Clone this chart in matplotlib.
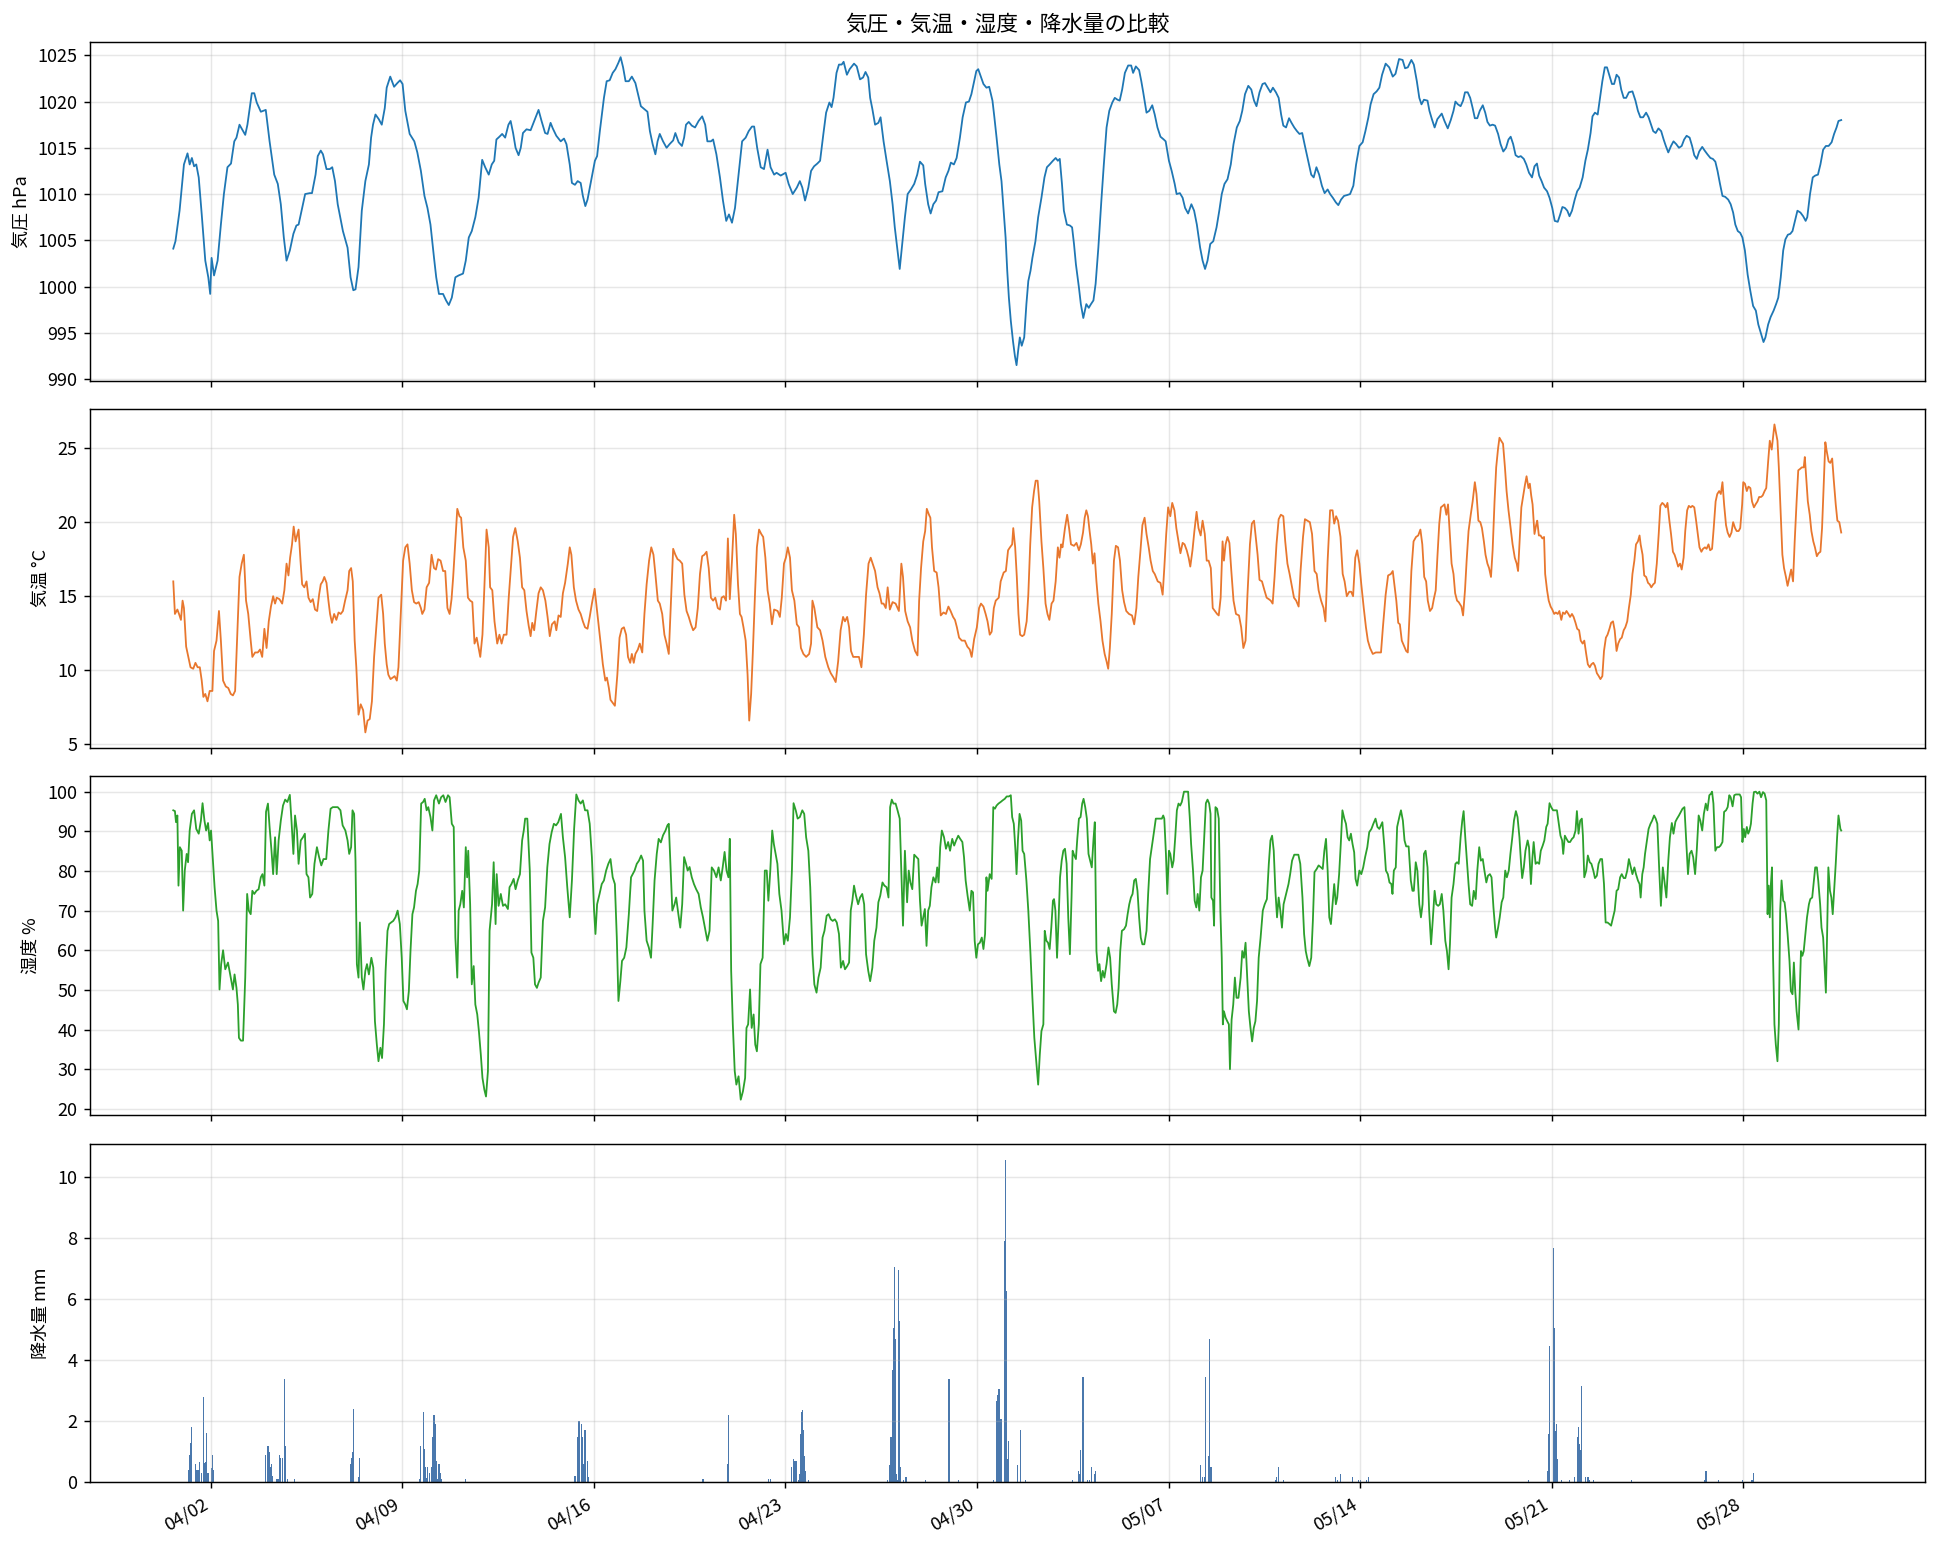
import numpy as np
import pandas as pd
import matplotlib
matplotlib.use('Agg')
import matplotlib.pyplot as plt
import matplotlib.dates as mdates

plt.rcParams['font.family'] = ['Noto Sans CJK JP', 'DejaVu Sans']
plt.rcParams['axes.unicode_minus'] = False

# record starts 04/01 00:00 JST, axis shows it as 03/31 15:00
start = pd.Timestamp('2024-03-31 15:00')

# (days from start, hPa)
pressure = [
    (0.00, 1004.1), (0.08, 1004.9), (0.23, 1008.2), (0.39, 1013.2), (0.52, 1014.4), (0.60, 1013.2), (0.68, 1013.9),
    (0.76, 1013.0), (0.84, 1013.2), (0.93, 1011.8), (1.04, 1007.8), (1.17, 1002.8), (1.28, 1001.0), (1.35, 999.2),
    (1.40, 1003.1), (1.49, 1001.2), (1.62, 1002.8), (1.74, 1006.7), (1.85, 1010.0), (1.98, 1012.9), (2.11, 1013.3),
    (2.23, 1015.7), (2.31, 1016.1), (2.42, 1017.5), (2.63, 1016.4), (2.71, 1017.5), (2.87, 1020.9), (2.96, 1020.9),
    (3.05, 1019.9), (3.20, 1018.9), (3.38, 1019.1), (3.52, 1015.7), (3.69, 1012.1), (3.82, 1011.1), (3.93, 1008.9),
    (4.04, 1005.3), (4.14, 1002.8), (4.26, 1003.9), (4.39, 1005.7), (4.50, 1006.6), (4.58, 1006.7), (4.69, 1008.2),
    (4.82, 1010.0), (4.99, 1010.1), (5.07, 1010.1), (5.20, 1012.1), (5.28, 1014.1), (5.39, 1014.7), (5.47, 1014.3),
    (5.60, 1012.7), (5.72, 1012.7), (5.81, 1012.9), (5.91, 1011.4), (6.01, 1008.9), (6.20, 1006.0), (6.37, 1004.2),
    (6.48, 1001.0), (6.58, 999.6), (6.66, 999.7), (6.77, 1002.1), (6.89, 1008.2), (7.02, 1011.4), (7.15, 1013.2),
    (7.23, 1016.1), (7.30, 1017.5), (7.39, 1018.6), (7.51, 1018.1), (7.62, 1017.5), (7.73, 1019.3), (7.80, 1021.5),
    (7.93, 1022.7), (8.07, 1021.6), (8.19, 1022.0), (8.29, 1022.3), (8.38, 1021.9), (8.48, 1019.0), (8.64, 1016.5),
    (8.81, 1015.7), (8.92, 1014.5), (9.05, 1012.5), (9.18, 1009.8), (9.29, 1008.5), (9.40, 1006.7), (9.53, 1003.1),
    (9.61, 1001.0), (9.71, 999.2), (9.86, 999.2), (9.97, 998.5), (10.07, 998.0), (10.18, 998.8), (10.31, 1001.0),
    (10.43, 1001.2), (10.59, 1001.4), (10.69, 1002.8), (10.80, 1005.3), (10.91, 1006.0), (11.04, 1007.5),
    (11.16, 1009.6), (11.29, 1013.7), (11.40, 1012.9), (11.53, 1012.1), (11.64, 1013.2), (11.73, 1013.6),
    (11.81, 1015.9), (11.92, 1016.2), (12.02, 1016.5), (12.13, 1016.1), (12.25, 1017.5), (12.33, 1017.9),
    (12.42, 1016.6), (12.51, 1015.0), (12.62, 1014.2), (12.70, 1015.0), (12.78, 1016.6), (12.91, 1017.0),
    (13.06, 1016.9), (13.19, 1017.9), (13.35, 1019.1), (13.46, 1017.9), (13.59, 1016.6), (13.68, 1016.5),
    (13.79, 1017.7), (13.87, 1017.1), (14.00, 1016.3), (14.16, 1015.7), (14.28, 1016.0), (14.37, 1015.4),
    (14.49, 1013.2), (14.57, 1011.2), (14.68, 1011.0), (14.78, 1011.4), (14.89, 1011.2), (14.97, 1009.8),
    (15.06, 1008.7), (15.14, 1009.4), (15.27, 1011.4), (15.41, 1013.6), (15.49, 1014.1), (15.59, 1016.8),
    (15.74, 1020.4), (15.84, 1022.2), (15.95, 1022.3), (16.06, 1023.1), (16.16, 1023.5), (16.27, 1024.2),
    (16.35, 1024.8), (16.44, 1023.7), (16.53, 1022.2), (16.65, 1022.2), (16.76, 1022.7), (16.89, 1022.0),
    (17.00, 1020.6), (17.09, 1019.5), (17.21, 1019.2), (17.33, 1018.9), (17.42, 1016.8), (17.52, 1015.4),
    (17.62, 1014.3), (17.70, 1015.7), (17.78, 1016.5), (17.90, 1015.7), (18.03, 1015.0), (18.14, 1015.4),
    (18.27, 1015.8), (18.35, 1016.6), (18.47, 1015.6), (18.59, 1015.2), (18.67, 1016.1), (18.74, 1017.5),
    (18.84, 1017.8), (18.95, 1017.4), (19.07, 1017.2), (19.20, 1017.9), (19.33, 1018.4), (19.44, 1017.5),
    (19.52, 1015.7), (19.65, 1015.7), (19.73, 1015.9), (19.85, 1014.3), (19.98, 1011.8), (20.09, 1009.3),
    (20.21, 1007.1), (20.31, 1007.8), (20.42, 1006.9), (20.53, 1008.5), (20.66, 1012.1), (20.79, 1015.7),
    (20.92, 1016.1), (21.03, 1016.8), (21.15, 1017.3), (21.23, 1017.3), (21.34, 1015.0), (21.47, 1012.9),
    (21.59, 1012.7), (21.72, 1014.8), (21.83, 1012.9), (21.96, 1012.1),
    (22.05, 1012.3), (22.20, 1012.0), (22.38, 1012.3), (22.49, 1011.1), (22.64, 1010.0), (22.79, 1010.7),
    (22.90, 1011.4), (22.99, 1010.7), (23.09, 1009.3), (23.21, 1010.7), (23.31, 1012.5), (23.42, 1013.0),
    (23.54, 1013.3), (23.64, 1013.6), (23.76, 1016.5), (23.86, 1018.8), (23.98, 1019.9), (24.06, 1019.4),
    (24.13, 1020.4), (24.24, 1023.1), (24.33, 1024.0), (24.43, 1024.0), (24.50, 1024.3), (24.62, 1022.9),
    (24.72, 1023.5), (24.88, 1024.1), (24.98, 1023.8), (25.10, 1022.4), (25.21, 1022.6), (25.30, 1023.2),
    (25.40, 1022.6), (25.47, 1020.4), (25.55, 1019.2), (25.65, 1017.5), (25.77, 1017.7), (25.85, 1018.3),
    (25.96, 1015.7), (26.07, 1013.6), (26.19, 1011.4), (26.29, 1008.9), (26.37, 1006.4), (26.47, 1003.9),
    (26.55, 1001.9), (26.64, 1004.6), (26.74, 1007.5), (26.84, 1010.0), (26.96, 1010.5), (27.08, 1011.1),
    (27.19, 1012.1), (27.29, 1013.5), (27.41, 1013.1), (27.48, 1011.1), (27.59, 1008.9), (27.68, 1007.9),
    (27.78, 1008.9), (27.88, 1009.3), (27.97, 1010.2), (28.11, 1010.3), (28.23, 1011.8), (28.33, 1012.5),
    (28.42, 1013.4), (28.53, 1013.2), (28.63, 1013.9), (28.75, 1016.1), (28.85, 1018.3), (28.97, 1019.9),
    (29.08, 1020.0), (29.17, 1020.8), (29.27, 1022.2), (29.35, 1023.3), (29.42, 1023.5), (29.49, 1022.9),
    (29.61, 1021.9), (29.72, 1021.5), (29.82, 1021.6), (29.94, 1020.1), (30.01, 1018.3), (30.09, 1016.1),
    (30.19, 1013.2), (30.27, 1011.4), (30.34, 1008.5), (30.42, 1005.3), (30.48, 1001.7), (30.54, 998.8),
    (30.61, 996.3), (30.69, 994.1), (30.76, 992.5), (30.82, 991.5), (30.88, 993.1), (30.94, 994.5),
    (31.01, 993.6), (31.10, 994.5), (31.18, 998.1), (31.25, 1000.6), (31.33, 1001.7), (31.40, 1003.1),
    (31.51, 1004.9), (31.61, 1007.5), (31.73, 1009.6), (31.84, 1011.8), (31.93, 1012.9), (32.03, 1013.2),
    (32.15, 1013.6), (32.25, 1013.9), (32.33, 1013.6), (32.40, 1013.8), (32.48, 1011.1), (32.55, 1008.2),
    (32.66, 1006.7), (32.77, 1006.6), (32.85, 1006.4), (32.92, 1004.6), (32.99, 1002.4), (33.10, 999.9),
    (33.17, 998.1), (33.26, 996.6), (33.37, 998.1), (33.46, 997.7), (33.54, 998.1), (33.63, 998.5),
    (33.71, 1000.3), (33.81, 1004.2), (33.92, 1009.3), (34.01, 1013.2), (34.11, 1017.2), (34.21, 1019.0),
    (34.32, 1019.9), (34.41, 1020.4), (34.51, 1020.2), (34.59, 1020.1), (34.68, 1021.3), (34.78, 1023.1),
    (34.90, 1023.9), (35.01, 1023.9), (35.08, 1023.1), (35.18, 1023.8), (35.30, 1023.4), (35.38, 1022.2),
    (35.45, 1021.0), (35.57, 1018.8), (35.67, 1019.0), (35.78, 1019.6), (35.87, 1018.6), (35.97, 1017.2),
    (36.08, 1016.2), (36.20, 1015.9), (36.27, 1015.7), (36.39, 1013.6), (36.49, 1012.5), (36.60, 1011.1),
    (36.67, 1010.0), (36.79, 1010.1), (36.89, 1009.6), (36.98, 1008.5), (37.09, 1007.9), (37.21, 1008.9),
    (37.31, 1008.2), (37.41, 1006.7), (37.53, 1004.2), (37.62, 1002.8), (37.71, 1001.9), (37.80, 1002.8),
    (37.90, 1004.6), (38.01, 1004.9), (38.13, 1006.4), (38.23, 1008.2), (38.32, 1010.0), (38.42, 1011.1),
    (38.53, 1011.6), (38.65, 1013.2), (38.75, 1015.4), (38.87, 1017.2), (38.98, 1017.9), (39.07, 1019.0),
    (39.17, 1020.8), (39.29, 1021.7), (39.40, 1021.3), (39.50, 1020.1), (39.59, 1019.5), (39.70, 1021.0),
    (39.81, 1021.9), (39.90, 1022.0), (40.00, 1021.5), (40.10, 1021.0), (40.19, 1021.5), (40.30, 1021.0),
    (40.40, 1020.4), (40.49, 1018.6), (40.57, 1017.4), (40.67, 1017.2), (40.78, 1018.2), (40.87, 1017.7),
    (40.97, 1017.2), (41.07, 1016.8), (41.16, 1016.5), (41.26, 1016.6), (41.36, 1015.2), (41.48, 1013.6),
    (41.59, 1012.1), (41.68, 1011.8), (41.78, 1012.9), (41.88, 1012.1), (41.98, 1010.9), (42.08, 1010.1),
    (42.19, 1010.5), (42.28, 1010.0), (42.38, 1009.6), (42.49, 1009.1), (42.58, 1008.8), (42.68, 1009.4),
    (42.79, 1009.8), (42.91, 1009.9), (43.01, 1010.0), (43.13, 1010.9), (43.23, 1013.2), (43.35, 1015.2),
    (43.47, 1015.6), (43.57, 1016.8), (43.68, 1018.3), (43.76, 1019.7), (43.87, 1020.8), (43.98, 1021.1),
    (44.08, 1021.5), (44.18, 1022.9), (44.31, 1024.1), (44.44, 1023.7), (44.57, 1022.7), (44.67, 1023.0),
    (44.80, 1024.6), (44.93, 1024.5), (45.02, 1023.6), (45.12, 1023.7), (45.25, 1024.5), (45.34, 1024.0),
    (45.45, 1022.2), (45.54, 1020.4), (45.62, 1019.7), (45.71, 1020.2), (45.84, 1020.1), (45.91, 1019.0),
    (46.00, 1018.1), (46.10, 1017.2), (46.20, 1018.1), (46.36, 1018.7), (46.46, 1017.9), (46.58, 1017.1),
    (46.69, 1018.0), (46.79, 1019.0), (46.86, 1020.0), (46.95, 1019.7), (47.05, 1019.5), (47.14, 1020.1),
    (47.21, 1021.0), (47.31, 1021.0), (47.40, 1020.4), (47.49, 1019.3), (47.57, 1018.2), (47.66, 1018.2),
    (47.75, 1019.0), (47.86, 1019.6), (47.95, 1018.8), (48.03, 1017.8), (48.12, 1017.4), (48.22, 1017.5),
    (48.31, 1017.4), (48.42, 1016.5), (48.51, 1015.4), (48.61, 1014.6), (48.71, 1015.0), (48.80, 1015.9),
    (48.88, 1016.2), (48.97, 1015.4), (49.06, 1014.2), (49.16, 1014.0), (49.25, 1014.1), (49.36, 1013.8),
    (49.45, 1013.2), (49.55, 1012.3), (49.66, 1011.8), (49.75, 1013.0), (49.84, 1013.3), (49.92, 1012.0),
    (50.01, 1011.4), (50.10, 1010.7), (50.21, 1010.3), (50.30, 1009.6), (50.40, 1008.5), (50.49, 1007.1),
    (50.60, 1007.0), (50.69, 1007.8), (50.77, 1008.6), (50.86, 1008.5), (50.95, 1008.2), (51.03, 1007.6),
    (51.12, 1008.2), (51.22, 1009.4), (51.31, 1010.3), (51.40, 1010.7), (51.51, 1011.8), (51.61, 1013.6),
    (51.70, 1014.8), (51.80, 1016.6), (51.87, 1018.4), (51.96, 1018.8), (52.06, 1018.6), (52.13, 1020.1),
    (52.23, 1022.2), (52.32, 1023.7), (52.40, 1023.7), (52.49, 1022.8), (52.58, 1021.9), (52.66, 1021.9),
    (52.75, 1022.9), (52.84, 1022.6), (52.92, 1021.3), (53.01, 1020.4), (53.10, 1020.4), (53.20, 1021.0),
    (53.33, 1021.1), (53.44, 1020.1), (53.53, 1019.0), (53.62, 1018.3), (53.72, 1018.3), (53.83, 1018.8),
    (53.92, 1018.3), (54.01, 1017.5), (54.09, 1016.8), (54.18, 1016.6), (54.28, 1017.1), (54.38, 1016.8),
    (54.47, 1015.9), (54.55, 1015.2), (54.64, 1014.5), (54.74, 1015.2), (54.83, 1015.7), (54.93, 1015.4),
    (55.03, 1015.0), (55.13, 1015.2), (55.22, 1015.9), (55.31, 1016.3), (55.42, 1016.1), (55.51, 1015.2),
    (55.59, 1014.2), (55.68, 1013.8), (55.77, 1014.6), (55.88, 1015.1), (55.97, 1014.7), (56.07, 1014.3),
    (56.18, 1013.9), (56.27, 1013.8), (56.36, 1013.5), (56.44, 1012.5), (56.53, 1011.1), (56.62, 1009.8),
    (56.72, 1009.7), (56.83, 1009.4), (56.92, 1008.9), (57.01, 1008.0), (57.09, 1006.7), (57.18, 1006.0),
    (57.27, 1005.8), (57.35, 1005.3), (57.44, 1003.9), (57.54, 1001.3), (57.64, 999.5), (57.74, 997.9),
    (57.84, 997.4), (57.93, 995.9), (58.03, 994.9), (58.12, 994.0), (58.19, 994.5), (58.29, 995.9),
    (58.38, 996.7), (58.49, 997.4), (58.58, 998.1), (58.66, 998.8), (58.75, 1001.0), (58.84, 1003.9),
    (58.92, 1005.1), (59.01, 1005.6), (59.10, 1005.7), (59.18, 1006.0), (59.27, 1007.1), (59.36, 1008.2),
    (59.47, 1008.0), (59.57, 1007.6), (59.66, 1007.1), (59.72, 1007.5), (59.82, 1010.0), (59.92, 1011.8),
    (60.01, 1012.0), (60.11, 1012.1), (60.20, 1013.2), (60.30, 1014.8), (60.40, 1015.2), (60.50, 1015.2),
    (60.61, 1015.6), (60.70, 1016.5), (60.79, 1017.2), (60.86, 1017.9), (60.96, 1018.0),
]

# (days from start, degC)
temperature = [
    (0.00, 16.0), (0.06, 13.8), (0.15, 14.1), (0.21, 13.8), (0.28, 13.4), (0.34, 14.7), (0.39, 14.2), (0.47, 11.6),
    (0.55, 10.9), (0.63, 10.2), (0.73, 10.1), (0.81, 10.5), (0.89, 10.2), (0.97, 10.2), (1.04, 9.3), (1.10, 8.2),
    (1.17, 8.4), (1.25, 7.9), (1.33, 8.6), (1.43, 8.6), (1.49, 11.3), (1.58, 12.0), (1.67, 14.0), (1.74, 12.0),
    (1.82, 9.3), (1.92, 8.9), (2.01, 8.8), (2.10, 8.4), (2.18, 8.3), (2.26, 8.6), (2.34, 12.4), (2.42, 16.3),
    (2.50, 17.2), (2.58, 17.8), (2.66, 14.7), (2.74, 13.8), (2.83, 12.0), (2.89, 10.9), (2.99, 11.2), (3.09, 11.2),
    (3.17, 11.4), (3.25, 10.9), (3.33, 12.8), (3.41, 11.5), (3.49, 13.3), (3.57, 14.3), (3.65, 15.0), (3.72, 14.5),
    (3.78, 14.9), (3.88, 14.8), (3.98, 14.5), (4.06, 15.4), (4.14, 17.2), (4.21, 16.4), (4.27, 17.6), (4.34, 18.5),
    (4.40, 19.7), (4.47, 18.7), (4.58, 19.5), (4.65, 17.4), (4.71, 15.8), (4.79, 15.6), (4.87, 16.0), (4.94, 14.9),
    (5.02, 14.6), (5.10, 14.8), (5.18, 14.1), (5.26, 14.0), (5.33, 15.1), (5.39, 15.8), (5.46, 16.0), (5.52, 16.3),
    (5.60, 15.9), (5.67, 14.7), (5.73, 13.8), (5.80, 13.2), (5.88, 13.8), (5.96, 13.4), (6.04, 13.9), (6.12, 13.8),
    (6.20, 14.0), (6.28, 14.7), (6.37, 15.4), (6.43, 16.7), (6.50, 16.9), (6.56, 16.0), (6.63, 12.0), (6.69, 10.2),
    (6.77, 7.0), (6.85, 7.7), (6.94, 7.3), (7.02, 5.8), (7.10, 6.6), (7.18, 6.7), (7.26, 7.9), (7.34, 10.9),
    (7.42, 12.9), (7.50, 14.9), (7.60, 15.1), (7.67, 13.8), (7.73, 11.8), (7.80, 10.4), (7.86, 9.7), (7.94, 9.4),
    (8.02, 9.5), (8.09, 9.6), (8.17, 9.3), (8.23, 10.2), (8.31, 13.6), (8.40, 17.4), (8.48, 18.3), (8.56, 18.5),
    (8.64, 17.2), (8.72, 15.4), (8.80, 14.6), (8.88, 14.5), (8.97, 14.6), (9.05, 14.2), (9.10, 13.8), (9.18, 14.1),
    (9.26, 15.6), (9.35, 15.9), (9.44, 17.8), (9.53, 16.9), (9.60, 16.8), (9.68, 17.5), (9.77, 17.4), (9.86, 16.7),
    (9.94, 16.7), (10.02, 14.2), (10.10, 13.8), (10.17, 14.8), (10.23, 16.3), (10.31, 18.7), (10.38, 20.9),
    (10.46, 20.4), (10.52, 20.3), (10.60, 18.3), (10.69, 17.4), (10.77, 14.9), (10.85, 14.7), (10.93, 14.6),
    (11.01, 11.8), (11.09, 12.2), (11.16, 11.5), (11.22, 10.9), (11.30, 12.4), (11.37, 15.6), (11.45, 19.5),
    (11.53, 18.3), (11.58, 15.6), (11.66, 15.4), (11.74, 13.3), (11.84, 11.8), (11.92, 12.4), (12.00, 11.8),
    (12.08, 12.4), (12.18, 12.4), (12.26, 14.9), (12.34, 16.9), (12.42, 19.0), (12.50, 19.6), (12.59, 18.7),
    (12.67, 17.6), (12.75, 15.6), (12.83, 15.4), (12.91, 14.0), (12.99, 13.0), (13.06, 12.3), (13.12, 13.2),
    (13.19, 12.7), (13.27, 14.0), (13.35, 15.2), (13.43, 15.6), (13.51, 15.4), (13.60, 14.7), (13.68, 13.6),
    (13.76, 12.3), (13.84, 13.1), (13.94, 13.3), (14.00, 12.7), (14.08, 13.7), (14.16, 13.6), (14.24, 15.2),
    (14.32, 15.9), (14.42, 17.2), (14.49, 18.3), (14.55, 17.8), (14.64, 15.6), (14.72, 14.7), (14.81, 14.1),
    (14.89, 13.8), (14.97, 13.3), (15.05, 12.9), (15.14, 12.8), (15.22, 13.6), (15.30, 14.5), (15.40, 15.5),
    (15.46, 14.5), (15.54, 13.1), (15.62, 11.8), (15.70, 10.4), (15.79, 9.3), (15.85, 9.5), (15.92, 8.8),
    (15.98, 8.0), (16.06, 7.8), (16.14, 7.6), (16.23, 9.7), (16.31, 12.2), (16.39, 12.8), (16.47, 12.9),
    (16.55, 12.4), (16.62, 10.9), (16.70, 10.5), (16.76, 11.1), (16.83, 10.5), (16.89, 11.1), (16.98, 11.4),
    (17.05, 11.8), (17.14, 11.2), (17.22, 13.8), (17.30, 15.8), (17.39, 17.4), (17.47, 18.3), (17.55, 17.8),
    (17.62, 16.5), (17.71, 14.7), (17.78, 14.5), (17.87, 13.8), (17.95, 12.4), (18.03, 11.8), (18.11, 11.1),
    (18.19, 14.7), (18.27, 18.2), (18.35, 17.8), (18.43, 17.5), (18.51, 17.4), (18.60, 17.2), (18.68, 15.1),
    (18.76, 14.0), (18.84, 13.6), (18.92, 13.1), (19.00, 12.7), (19.09, 12.9), (19.17, 14.2), (19.25, 16.5),
    (19.33, 17.7), (19.41, 17.8), (19.49, 18.0), (19.57, 16.9), (19.65, 14.9), (19.73, 14.7), (19.81, 14.9),
    (19.90, 14.2), (19.98, 14.1), (20.04, 14.9), (20.12, 15.0), (20.20, 14.7), (20.27, 18.9), (20.34, 14.8),
    (20.42, 17.4), (20.50, 20.5), (20.56, 19.2), (20.64, 15.8), (20.71, 13.8), (20.77, 13.6), (20.84, 12.9),
    (20.92, 12.0), (20.99, 9.7), (21.05, 6.6), (21.12, 8.4), (21.18, 11.1), (21.26, 15.1), (21.33, 18.3),
    (21.41, 19.5), (21.49, 19.2), (21.56, 19.0), (21.64, 17.6), (21.72, 15.4), (21.80, 14.5), (21.88, 13.1),
    (21.96, 14.1),
    (22.09, 14.0), (22.17, 13.6), (22.24, 14.9), (22.32, 17.2), (22.39, 17.6), (22.46, 18.3), (22.54, 17.6),
    (22.61, 15.4), (22.70, 14.7), (22.79, 13.1), (22.87, 12.9), (22.94, 11.5), (23.03, 11.1), (23.13, 10.9),
    (23.24, 11.1), (23.31, 11.8), (23.36, 14.7), (23.43, 14.2), (23.54, 12.9), (23.64, 12.7), (23.73, 12.0),
    (23.83, 10.9), (23.94, 10.2), (24.03, 9.8), (24.13, 9.5), (24.21, 9.2), (24.30, 10.6), (24.39, 12.7),
    (24.48, 13.6), (24.55, 13.3), (24.63, 13.6), (24.70, 12.9), (24.77, 11.3), (24.85, 10.9), (24.95, 10.9),
    (25.06, 10.9), (25.15, 10.2), (25.24, 12.4), (25.32, 15.1), (25.41, 17.2), (25.49, 17.6), (25.56, 17.2),
    (25.65, 16.7), (25.74, 15.6), (25.81, 15.2), (25.89, 14.5), (25.96, 14.5), (26.04, 14.2), (26.11, 15.6),
    (26.19, 14.1), (26.29, 14.6), (26.40, 14.5), (26.52, 14.0), (26.61, 17.2), (26.67, 16.3), (26.75, 14.0),
    (26.84, 13.3), (26.93, 12.9), (27.01, 12.0), (27.11, 11.3), (27.20, 11.0), (27.26, 14.7), (27.33, 16.9),
    (27.41, 18.7), (27.48, 19.4), (27.54, 20.9), (27.62, 20.5), (27.67, 20.3), (27.73, 18.3), (27.81, 16.7),
    (27.90, 16.6), (27.97, 15.6), (28.05, 13.7), (28.15, 13.9), (28.24, 13.8), (28.33, 14.3), (28.41, 14.0),
    (28.50, 13.6), (28.57, 13.4), (28.64, 12.9), (28.72, 12.2), (28.82, 12.0), (28.93, 12.0), (29.02, 11.6),
    (29.11, 11.4), (29.18, 10.9), (29.27, 12.1), (29.37, 12.9), (29.45, 14.2), (29.52, 14.5), (29.61, 14.3),
    (29.69, 13.8), (29.76, 13.3), (29.84, 12.4), (29.91, 12.6), (29.99, 14.2), (30.06, 14.7), (30.17, 14.9),
    (30.24, 16.0), (30.35, 16.6), (30.43, 16.7), (30.51, 18.1), (30.58, 18.3), (30.66, 18.5), (30.70, 19.6),
    (30.77, 18.3), (30.83, 16.3), (30.89, 13.8), (30.95, 12.4), (31.03, 12.3), (31.10, 12.4), (31.19, 13.3),
    (31.25, 15.1), (31.32, 18.5), (31.39, 21.0), (31.46, 22.1), (31.52, 22.8), (31.59, 22.8), (31.65, 21.4),
    (31.73, 18.7), (31.80, 16.9), (31.88, 14.5), (31.95, 13.8), (32.02, 13.4), (32.10, 14.5), (32.17, 14.7),
    (32.25, 16.0), (32.33, 18.3), (32.39, 17.6), (32.45, 18.5), (32.50, 18.3), (32.59, 19.6), (32.67, 20.5),
    (32.74, 19.6), (32.81, 18.5), (32.92, 18.4), (33.01, 18.6), (33.10, 18.1), (33.17, 18.5), (33.25, 19.3),
    (33.31, 20.3), (33.37, 20.8), (33.43, 20.4), (33.49, 19.4), (33.55, 18.5), (33.61, 17.2), (33.67, 17.9),
    (33.74, 16.0), (33.81, 14.5), (33.89, 13.3), (33.96, 12.0), (34.04, 11.1), (34.11, 10.6), (34.17, 10.1),
    (34.23, 11.5), (34.30, 13.8), (34.38, 17.4), (34.45, 18.4), (34.53, 18.3), (34.60, 17.4), (34.68, 15.4),
    (34.75, 14.6), (34.83, 14.0), (34.93, 13.8), (35.04, 13.7), (35.12, 13.1), (35.20, 14.2), (35.27, 16.3),
    (35.35, 18.1), (35.42, 19.8), (35.50, 20.3), (35.57, 19.2), (35.65, 18.3), (35.72, 17.4), (35.80, 16.7),
    (35.87, 16.5), (35.98, 16.0), (36.08, 15.9), (36.16, 15.1), (36.22, 16.9), (36.29, 19.2), (36.36, 21.0),
    (36.44, 20.4), (36.51, 21.3), (36.59, 20.8), (36.66, 19.6), (36.74, 18.7), (36.81, 17.9), (36.89, 18.6),
    (36.96, 18.5), (37.04, 18.1), (37.11, 17.6), (37.17, 17.0), (37.25, 18.1), (37.32, 19.4), (37.40, 20.7),
    (37.47, 19.6), (37.55, 19.1), (37.62, 20.1), (37.70, 19.2), (37.77, 17.4), (37.84, 17.4), (37.92, 16.9),
    (37.99, 14.2), (38.07, 14.0), (38.15, 13.8), (38.21, 13.7), (38.28, 14.9), (38.35, 18.7), (38.40, 17.4),
    (38.46, 18.5), (38.53, 19.0), (38.60, 18.6), (38.67, 16.7), (38.75, 14.7), (38.84, 13.8), (38.95, 13.7),
    (39.03, 12.9), (39.11, 11.5), (39.19, 12.0), (39.26, 15.1), (39.35, 18.5), (39.42, 19.9), (39.50, 20.1),
    (39.55, 19.2), (39.63, 17.8), (39.70, 16.1), (39.79, 16.0), (39.88, 15.4), (39.96, 14.9), (40.04, 14.8),
    (40.11, 14.7), (40.18, 14.5), (40.25, 16.3), (40.32, 18.5), (40.40, 20.2), (40.48, 20.5), (40.57, 20.4),
    (40.64, 18.7), (40.72, 17.2), (40.80, 16.5), (40.89, 15.6), (40.96, 14.9), (41.04, 14.7), (41.13, 14.3),
    (41.20, 16.7), (41.29, 19.0), (41.36, 20.2), (41.45, 20.1), (41.54, 20.0), (41.62, 19.2), (41.71, 16.7),
    (41.79, 16.5), (41.86, 15.4), (41.95, 14.7), (42.04, 14.2), (42.11, 13.3), (42.19, 17.4), (42.28, 20.8),
    (42.37, 20.8), (42.43, 19.9), (42.50, 20.4), (42.57, 20.1), (42.66, 19.0), (42.74, 16.5), (42.81, 16.0),
    (42.89, 15.0), (42.98, 15.3), (43.05, 15.3), (43.12, 15.0), (43.20, 17.6), (43.27, 18.1), (43.35, 17.2),
    (43.42, 15.8), (43.51, 14.2), (43.59, 12.9), (43.66, 12.0), (43.74, 11.5), (43.84, 11.1), (43.95, 11.2),
    (44.04, 11.2),
    (44.14, 11.2), (44.21, 12.9), (44.31, 15.1), (44.40, 16.4), (44.50, 16.5), (44.57, 16.7), (44.64, 15.6),
    (44.70, 14.7), (44.77, 13.2), (44.83, 13.1), (44.90, 12.0), (44.99, 11.6), (45.06, 11.3), (45.12, 11.2),
    (45.19, 14.0), (45.25, 16.7), (45.33, 18.7), (45.42, 19.0), (45.50, 19.1), (45.58, 19.5), (45.65, 18.5),
    (45.72, 16.3), (45.79, 16.0), (45.85, 14.7), (45.93, 14.0), (46.01, 14.2), (46.07, 14.8), (46.14, 15.4),
    (46.20, 17.6), (46.27, 19.9), (46.33, 21.0), (46.40, 21.1), (46.46, 21.2), (46.53, 20.5), (46.59, 21.2),
    (46.65, 19.4), (46.72, 17.2), (46.79, 16.5), (46.85, 15.2), (46.92, 14.7), (46.98, 14.6), (47.08, 14.3),
    (47.14, 13.7), (47.21, 15.4), (47.27, 17.4), (47.34, 19.4), (47.42, 20.5), (47.49, 21.4), (47.57, 22.7),
    (47.63, 21.9), (47.70, 20.1), (47.77, 20.0), (47.83, 19.6), (47.90, 18.7), (47.96, 17.8), (48.03, 17.2),
    (48.09, 16.9), (48.16, 16.3), (48.22, 18.1), (48.29, 21.4), (48.35, 23.7), (48.42, 25.0), (48.47, 25.7),
    (48.53, 25.5), (48.60, 25.3), (48.67, 23.7), (48.73, 22.1), (48.80, 20.8), (48.88, 19.6), (48.95, 18.5),
    (49.03, 17.6), (49.10, 17.2), (49.15, 16.7), (49.20, 18.5), (49.27, 21.0), (49.33, 21.7), (49.40, 22.5),
    (49.46, 23.1), (49.53, 22.3), (49.58, 22.6), (49.63, 21.8), (49.68, 21.2), (49.75, 19.2), (49.81, 19.8),
    (49.85, 20.1), (49.91, 19.1), (49.97, 19.1), (50.04, 18.9), (50.10, 19.0), (50.14, 16.5), (50.21, 15.4),
    (50.27, 14.7), (50.34, 14.3), (50.40, 14.1), (50.47, 13.8), (50.53, 13.9), (50.60, 13.8), (50.66, 14.0),
    (50.73, 13.4), (50.79, 13.9), (50.86, 13.8), (50.92, 14.0), (50.99, 13.8), (51.05, 13.6), (51.12, 13.8),
    (51.18, 13.6), (51.25, 13.2), (51.31, 12.8), (51.38, 12.7), (51.44, 12.0), (51.51, 11.8), (51.57, 12.0),
    (51.64, 11.1), (51.70, 10.4), (51.77, 10.2), (51.83, 10.4), (51.90, 10.5), (51.96, 10.3), (52.03, 9.8),
    (52.10, 9.6), (52.16, 9.4), (52.23, 9.6), (52.29, 11.3), (52.36, 12.2), (52.42, 12.4), (52.49, 12.8),
    (52.55, 13.2), (52.62, 13.3), (52.68, 12.7), (52.75, 11.3), (52.81, 11.8), (52.88, 12.1), (52.94, 12.2),
    (53.01, 12.7), (53.07, 12.9), (53.14, 13.3), (53.20, 14.2), (53.27, 15.1), (53.33, 16.5), (53.40, 17.4),
    (53.46, 18.5), (53.53, 18.7), (53.59, 19.1), (53.63, 18.5), (53.70, 17.8), (53.76, 16.4), (53.83, 16.3),
    (53.90, 15.9), (53.96, 15.8), (54.02, 15.6), (54.09, 15.8), (54.15, 15.9), (54.22, 17.2), (54.29, 19.2),
    (54.35, 21.1), (54.42, 21.3), (54.48, 21.2), (54.55, 21.0), (54.61, 21.3), (54.68, 20.1), (54.74, 19.2),
    (54.81, 18.0), (54.87, 17.8), (54.94, 17.4), (55.00, 17.0), (55.07, 17.2), (55.13, 16.8), (55.20, 17.6),
    (55.26, 19.4), (55.33, 20.8), (55.39, 21.1), (55.46, 21.0), (55.52, 21.1), (55.59, 21.0), (55.65, 20.2),
    (55.72, 19.2), (55.78, 18.3), (55.85, 18.0), (55.91, 18.2), (55.98, 18.3), (56.04, 18.2), (56.11, 18.5),
    (56.17, 18.1), (56.24, 18.2), (56.30, 19.6), (56.37, 21.4), (56.43, 21.9), (56.50, 22.1), (56.56, 21.9),
    (56.62, 22.7), (56.68, 21.2), (56.75, 19.8), (56.81, 19.3), (56.88, 19.0), (56.95, 19.3), (57.01, 20.0),
    (57.08, 19.6), (57.14, 19.4), (57.21, 19.4), (57.27, 19.6), (57.34, 21.2), (57.38, 22.7), (57.44, 22.6),
    (57.51, 22.1), (57.57, 22.4), (57.64, 22.3), (57.70, 21.4), (57.77, 21.0), (57.83, 21.2), (57.90, 21.4),
    (57.96, 21.7), (58.03, 21.7), (58.09, 21.8), (58.16, 22.1), (58.22, 22.3), (58.29, 24.1), (58.35, 25.5),
    (58.42, 24.9), (58.48, 25.9), (58.52, 26.6), (58.57, 26.1), (58.63, 25.5), (58.68, 23.7), (58.74, 21.0),
    (58.81, 17.8), (58.87, 16.9), (58.94, 16.3), (59.00, 15.7), (59.07, 16.3), (59.13, 16.8), (59.20, 16.0),
    (59.26, 18.7), (59.33, 21.4), (59.39, 23.5), (59.46, 23.6), (59.52, 23.7), (59.59, 23.7), (59.63, 24.4),
    (59.68, 23.0), (59.74, 21.4), (59.81, 20.5), (59.87, 19.4), (59.94, 18.7), (60.00, 18.3), (60.07, 17.7),
    (60.13, 17.9), (60.20, 18.0), (60.26, 19.6), (60.33, 23.0), (60.38, 25.4), (60.43, 24.8), (60.50, 24.1),
    (60.56, 24.0), (60.63, 24.3), (60.69, 22.8), (60.76, 21.2), (60.82, 20.1), (60.89, 20.0), (60.96, 19.3),
]

# (days from start, %)
humidity = [
    (0.00, 95.3), (0.06, 95.1), (0.10, 92.3), (0.15, 94.0), (0.19, 76.3), (0.24, 86.0), (0.31, 85.1), (0.36, 70.0),
    (0.42, 80.1), (0.49, 84.3), (0.54, 82.2), (0.60, 90.2), (0.68, 94.4), (0.76, 95.3), (0.84, 90.6), (0.93, 89.4),
    (1.01, 92.7), (1.07, 97.1), (1.14, 92.7), (1.20, 90.2), (1.27, 92.1), (1.33, 87.7), (1.38, 90.2), (1.45, 82.6),
    (1.51, 75.9), (1.58, 70.0), (1.64, 67.4), (1.69, 50.1), (1.75, 56.5), (1.82, 60.0), (1.90, 55.2), (2.00, 56.9),
    (2.10, 53.1), (2.18, 50.1), (2.24, 53.9), (2.31, 50.5), (2.36, 46.3), (2.40, 37.9), (2.47, 37.2), (2.55, 37.2),
    (2.63, 53.1), (2.70, 74.2), (2.76, 70.0), (2.83, 69.1), (2.89, 75.0), (2.96, 74.2), (3.04, 75.0), (3.12, 75.4),
    (3.20, 78.4), (3.26, 79.2), (3.33, 76.3), (3.39, 94.9), (3.46, 97.0), (3.52, 91.1), (3.59, 85.1), (3.65, 79.2),
    (3.72, 88.5), (3.78, 79.2), (3.85, 87.7), (3.93, 92.7), (4.01, 96.5), (4.09, 98.0), (4.17, 97.4), (4.26, 99.2),
    (4.32, 92.7), (4.39, 84.3), (4.45, 94.0), (4.52, 90.2), (4.58, 81.8), (4.66, 87.7), (4.74, 88.5), (4.81, 89.4),
    (4.87, 79.2), (4.94, 78.4), (5.00, 73.3), (5.08, 74.2), (5.16, 81.8), (5.25, 86.0), (5.33, 83.5), (5.41, 81.4),
    (5.49, 83.0), (5.59, 83.0), (5.67, 90.2), (5.75, 95.7), (5.83, 96.1), (5.91, 96.1), (6.01, 96.1), (6.11, 95.3),
    (6.19, 91.5), (6.29, 90.2), (6.37, 87.7), (6.43, 84.3), (6.50, 86.0), (6.55, 95.3), (6.61, 94.4), (6.66, 82.6),
    (6.71, 56.5), (6.77, 53.1), (6.82, 67.0), (6.89, 53.1), (6.95, 50.1), (7.02, 54.8), (7.08, 56.5), (7.15, 53.9),
    (7.24, 58.1), (7.31, 55.6), (7.37, 42.1), (7.44, 36.2), (7.50, 32.0), (7.57, 35.4), (7.63, 32.8), (7.70, 41.3),
    (7.76, 54.8), (7.83, 64.9), (7.89, 66.6), (7.96, 67.0), (8.04, 67.4), (8.12, 68.3), (8.20, 70.0), (8.28, 66.6),
    (8.35, 58.1), (8.41, 47.2), (8.48, 46.3), (8.54, 45.1), (8.61, 49.7), (8.67, 59.8), (8.74, 69.1), (8.80, 70.8),
    (8.87, 75.0), (8.93, 76.7), (8.99, 80.1), (9.06, 97.0), (9.13, 97.4), (9.19, 98.2), (9.26, 95.3), (9.32, 96.1),
    (9.40, 93.6), (9.47, 90.2), (9.53, 97.8), (9.61, 99.1), (9.71, 97.0), (9.79, 98.6), (9.87, 99.1), (9.95, 97.4),
    (10.04, 99.1), (10.10, 98.6), (10.18, 91.9), (10.25, 91.1), (10.31, 63.2), (10.38, 53.1), (10.43, 70.0),
    (10.49, 71.6), (10.56, 75.0), (10.62, 70.8), (10.69, 86.0), (10.74, 78.4), (10.78, 85.1), (10.85, 71.6),
    (10.91, 51.4), (10.98, 56.0), (11.04, 46.3), (11.11, 43.8), (11.17, 39.6), (11.24, 33.7), (11.30, 27.8),
    (11.37, 24.8), (11.43, 23.1), (11.50, 29.5), (11.56, 64.9), (11.65, 71.6), (11.71, 82.2), (11.78, 66.6),
    (11.82, 79.2), (11.89, 71.2), (11.97, 74.2), (12.05, 71.2), (12.13, 71.6), (12.23, 70.4), (12.29, 75.9),
    (12.36, 76.7), (12.44, 78.0), (12.51, 75.4), (12.59, 77.6), (12.67, 79.2), (12.75, 87.7), (12.81, 90.2),
    (12.86, 93.2), (12.94, 93.2), (13.03, 80.1), (13.09, 59.4), (13.16, 58.1), (13.22, 51.4), (13.29, 50.5),
    (13.35, 51.8), (13.43, 53.1), (13.51, 67.4), (13.59, 70.8), (13.67, 80.9), (13.75, 86.8), (13.83, 89.8),
    (13.91, 91.9), (13.99, 91.5), (14.07, 92.3), (14.17, 94.4), (14.24, 88.5), (14.32, 83.5), (14.40, 75.9),
    (14.49, 68.3), (14.57, 77.6), (14.65, 90.6), (14.73, 99.3), (14.81, 97.8), (14.89, 97.0), (14.97, 97.8),
    (15.05, 95.3), (15.14, 95.3), (15.22, 91.9), (15.30, 83.5), (15.38, 70.0), (15.43, 64.1), (15.49, 71.6),
    (15.58, 74.2), (15.66, 76.7), (15.74, 77.6), (15.82, 80.1), (15.90, 81.8), (15.98, 83.0), (16.06, 78.4),
    (16.14, 76.7), (16.21, 63.2), (16.27, 47.2), (16.34, 52.2), (16.40, 57.3), (16.48, 58.1), (16.56, 60.7),
    (16.65, 69.1), (16.73, 78.4), (16.79, 79.2), (16.86, 80.1), (16.94, 81.8), (17.02, 82.6), (17.10, 83.9),
    (17.17, 82.6), (17.22, 70.0), (17.30, 62.4), (17.38, 60.7), (17.46, 58.1), (17.52, 66.6), (17.59, 77.6),
    (17.67, 84.3), (17.74, 88.1), (17.82, 87.2), (17.90, 89.0), (17.99, 90.2), (18.06, 91.5), (18.11, 91.9),
    (18.17, 81.8), (18.24, 70.0), (18.32, 71.6), (18.38, 73.3), (18.46, 69.1), (18.53, 65.7), (18.60, 71.6),
    (18.67, 83.5), (18.74, 81.8), (18.80, 80.1), (18.87, 81.0), (18.95, 78.4), (19.03, 76.7), (19.11, 75.4),
    (19.20, 74.2), (19.28, 70.8), (19.36, 68.3), (19.44, 65.3), (19.52, 62.4), (19.60, 64.9), (19.68, 80.9),
    (19.76, 80.1), (19.85, 78.4), (19.93, 80.9), (20.01, 77.6), (20.08, 80.9), (20.15, 84.8), (20.22, 80.1),
    (20.29, 78.4), (20.34, 88.1), (20.39, 54.8), (20.45, 41.3), (20.52, 29.5), (20.58, 26.1), (20.66, 28.2),
    (20.74, 22.3), (20.82, 24.4), (20.90, 27.8), (20.95, 40.4), (21.01, 41.3), (21.08, 50.1), (21.14, 40.4),
    (21.21, 43.8), (21.27, 36.2), (21.33, 34.5), (21.40, 41.3), (21.46, 56.5), (21.54, 58.1), (21.62, 80.1),
    (21.69, 80.1), (21.75, 72.5), (21.82, 80.1), (21.89, 90.2), (21.95, 86.8),
    (22.08, 81.8), (22.15, 74.2), (22.23, 70.0), (22.32, 61.5), (22.39, 64.1), (22.46, 62.4), (22.54, 68.3),
    (22.61, 80.1), (22.67, 97.1), (22.75, 95.3), (22.82, 93.2), (22.90, 93.6), (22.99, 95.3), (23.06, 94.4),
    (23.13, 88.5), (23.21, 85.1), (23.28, 75.9), (23.36, 59.0), (23.43, 51.4), (23.51, 49.3), (23.58, 53.1),
    (23.66, 55.6), (23.73, 63.2), (23.80, 64.9), (23.88, 68.7), (23.95, 69.1), (24.03, 67.8), (24.10, 67.4),
    (24.18, 67.8), (24.25, 67.0), (24.33, 64.1), (24.40, 55.6), (24.48, 57.3), (24.55, 55.2), (24.63, 56.0),
    (24.70, 56.9), (24.76, 70.0), (24.82, 72.5), (24.88, 76.3), (24.95, 73.8), (25.03, 71.6), (25.10, 73.3),
    (25.18, 74.2), (25.25, 71.6), (25.32, 59.0), (25.40, 54.8), (25.47, 52.2), (25.55, 55.6), (25.62, 62.4),
    (25.70, 65.7), (25.77, 72.1), (25.84, 73.8), (25.92, 77.1), (25.99, 76.3), (26.07, 75.9), (26.14, 73.3),
    (26.20, 96.1), (26.26, 98.0), (26.32, 97.0), (26.40, 97.0), (26.47, 95.3), (26.55, 93.2), (26.61, 80.1),
    (26.67, 66.2), (26.74, 85.1), (26.82, 72.1), (26.88, 80.1), (26.94, 77.1), (27.01, 75.4), (27.08, 84.1),
    (27.16, 83.5), (27.23, 83.0), (27.29, 72.5), (27.35, 66.2), (27.41, 68.3), (27.47, 70.4), (27.53, 61.1),
    (27.59, 70.0), (27.65, 71.2), (27.71, 75.9), (27.78, 78.4), (27.86, 77.1), (27.92, 80.9), (27.97, 77.1),
    (28.03, 86.0), (28.09, 90.2), (28.17, 88.5), (28.24, 85.6), (28.32, 87.3), (28.39, 85.1), (28.47, 88.1),
    (28.54, 86.4), (28.61, 87.7), (28.69, 88.9), (28.76, 88.1), (28.84, 87.3), (28.90, 83.5), (28.96, 77.6),
    (29.03, 73.8), (29.11, 70.0), (29.17, 75.0), (29.23, 74.6), (29.29, 62.4), (29.35, 58.1), (29.41, 61.5),
    (29.48, 61.9), (29.55, 63.2), (29.61, 60.3), (29.67, 64.1), (29.72, 78.4), (29.76, 75.0), (29.84, 79.2),
    (29.91, 78.0), (29.97, 96.1), (30.03, 95.7), (30.09, 96.5), (30.16, 97.0), (30.24, 97.4), (30.31, 97.8),
    (30.39, 98.2), (30.46, 98.8), (30.54, 98.8), (30.61, 99.1), (30.66, 93.6), (30.72, 91.9), (30.78, 85.1),
    (30.82, 79.2), (30.87, 87.7), (30.93, 94.4), (30.99, 92.7), (31.04, 85.1), (31.10, 84.3), (31.18, 77.6),
    (31.25, 70.0), (31.33, 59.0), (31.40, 48.0), (31.47, 37.9), (31.55, 31.1), (31.61, 26.1), (31.67, 33.7),
    (31.73, 39.6), (31.80, 41.3), (31.85, 64.9), (31.91, 62.4), (31.97, 61.9), (32.03, 60.3), (32.09, 65.7),
    (32.15, 72.5), (32.19, 72.9), (32.24, 70.0), (32.30, 58.1), (32.36, 68.3), (32.41, 78.4), (32.47, 82.6),
    (32.53, 85.1), (32.59, 85.6), (32.65, 81.8), (32.71, 68.3), (32.77, 59.0), (32.83, 73.3), (32.87, 85.1),
    (32.93, 83.9), (32.99, 83.0), (33.04, 88.1), (33.10, 93.2), (33.16, 93.6), (33.22, 97.0), (33.27, 98.2),
    (33.33, 96.1), (33.39, 93.2), (33.45, 84.3), (33.51, 82.6), (33.57, 80.9), (33.63, 87.7), (33.68, 92.3),
    (33.74, 59.8), (33.80, 54.8), (33.85, 56.5), (33.91, 52.2), (33.97, 54.8), (34.03, 53.1), (34.11, 56.5),
    (34.18, 60.7), (34.24, 58.1), (34.30, 51.4), (34.38, 44.6), (34.44, 44.2), (34.50, 46.3), (34.55, 50.5),
    (34.61, 59.8), (34.67, 64.9), (34.75, 65.3), (34.82, 66.2), (34.88, 69.1), (34.94, 71.6), (35.00, 73.3),
    (35.06, 74.2), (35.12, 77.6), (35.18, 78.0), (35.24, 75.0), (35.30, 68.3), (35.36, 63.2), (35.42, 61.5),
    (35.49, 61.5), (35.57, 64.9), (35.63, 74.2), (35.70, 83.0), (35.78, 86.8), (35.85, 90.2), (35.91, 93.2),
    (35.99, 93.2), (36.06, 93.2), (36.13, 93.2), (36.18, 94.0), (36.22, 93.2), (36.28, 84.3), (36.33, 74.2),
    (36.39, 85.1), (36.44, 84.3), (36.51, 80.9), (36.56, 82.6), (36.62, 88.5), (36.68, 95.3), (36.74, 97.0),
    (36.80, 96.5), (36.86, 97.4), (36.94, 100.0), (37.01, 100.0), (37.09, 100.0), (37.15, 93.6), (37.20, 86.8),
    (37.27, 80.1), (37.33, 72.5), (37.39, 70.8), (37.44, 74.2), (37.50, 70.0), (37.56, 78.4), (37.62, 80.1),
    (37.68, 88.5), (37.74, 97.1), (37.80, 98.0), (37.86, 97.0), (37.91, 94.4), (37.94, 73.3), (38.00, 72.5),
    (38.04, 66.2), (38.09, 96.1), (38.15, 95.7), (38.21, 93.2), (38.27, 70.0), (38.32, 58.1), (38.36, 41.3),
    (38.40, 44.6), (38.46, 43.0), (38.52, 42.1), (38.58, 41.3), (38.62, 30.0), (38.68, 42.5), (38.74, 46.3),
    (38.80, 53.1), (38.86, 48.0), (38.93, 48.0), (39.01, 53.1), (39.07, 59.8), (39.13, 58.1), (39.19, 61.9),
    (39.25, 53.1), (39.31, 44.6), (39.37, 40.4), (39.43, 37.0), (39.49, 40.4), (39.55, 42.1), (39.61, 47.2),
    (39.67, 58.1), (39.74, 63.2), (39.82, 70.0), (39.89, 71.6), (39.97, 72.9), (40.04, 81.8), (40.10, 87.7),
    (40.16, 88.9), (40.22, 85.1), (40.28, 75.0), (40.34, 68.3), (40.40, 73.3), (40.46, 70.0), (40.52, 65.7),
    (40.58, 71.6), (40.64, 73.3), (40.70, 75.0), (40.76, 76.7), (40.82, 79.2), (40.89, 82.6), (40.97, 84.1),
    (41.04, 84.1), (41.12, 84.1), (41.19, 81.8), (41.27, 73.3), (41.33, 64.1), (41.39, 59.8), (41.44, 58.1),
    (41.52, 56.0), (41.59, 58.1), (41.65, 67.4), (41.71, 79.7), (41.79, 80.5), (41.86, 81.4), (41.93, 81.0),
    (42.01, 80.5), (42.07, 85.1), (42.13, 88.1), (42.19, 80.1), (42.25, 68.3), (42.31, 66.6), (42.37, 71.6),
    (42.43, 76.7), (42.49, 71.6), (42.54, 73.3), (42.61, 79.2), (42.67, 86.8), (42.73, 95.3), (42.80, 93.2),
    (42.86, 91.9), (42.92, 88.5), (42.98, 87.7), (43.04, 89.4), (43.10, 86.8), (43.16, 84.7), (43.21, 78.0),
    (43.27, 76.3), (43.35, 80.1), (43.42, 79.2), (43.49, 80.9), (43.56, 83.5), (43.64, 86.0), (43.71, 89.8),
    (43.79, 90.6), (43.86, 91.9), (43.94, 93.2), (44.01, 91.1),
    (44.08, 90.6), (44.19, 92.3), (44.26, 86.4), (44.32, 80.1), (44.39, 79.2), (44.45, 77.1), (44.52, 76.7),
    (44.56, 74.2), (44.61, 80.1), (44.68, 80.9), (44.73, 91.1), (44.81, 93.6), (44.87, 95.3), (44.94, 92.7),
    (45.00, 87.7), (45.06, 86.2), (45.15, 86.2), (45.23, 77.6), (45.29, 75.0), (45.34, 75.0), (45.41, 82.2),
    (45.47, 80.1), (45.54, 71.6), (45.60, 68.3), (45.66, 71.6), (45.71, 84.3), (45.77, 85.1), (45.84, 80.9),
    (45.90, 70.0), (45.97, 61.5), (46.03, 67.4), (46.10, 75.0), (46.16, 71.6), (46.23, 71.2), (46.29, 71.6),
    (46.36, 74.2), (46.42, 70.0), (46.49, 62.4), (46.55, 59.8), (46.61, 55.2), (46.66, 61.5), (46.72, 73.3),
    (46.79, 76.7), (46.86, 81.8), (46.92, 82.2), (46.98, 81.8), (47.05, 88.5), (47.11, 92.7), (47.16, 95.1),
    (47.22, 88.5), (47.28, 82.6), (47.34, 76.7), (47.40, 71.6), (47.47, 71.2), (47.53, 75.0), (47.60, 72.9),
    (47.66, 80.1), (47.73, 86.0), (47.79, 82.6), (47.86, 83.0), (47.92, 80.1), (47.99, 77.1), (48.05, 78.8),
    (48.12, 79.2), (48.18, 78.4), (48.25, 70.8), (48.31, 65.7), (48.35, 63.2), (48.42, 65.7), (48.48, 68.3),
    (48.55, 72.1), (48.61, 73.3), (48.68, 80.1), (48.74, 78.4), (48.81, 80.1), (48.87, 84.3), (48.94, 88.5),
    (49.00, 92.7), (49.07, 95.1), (49.13, 93.6), (49.20, 88.5), (49.26, 81.8), (49.30, 78.2), (49.36, 80.9),
    (49.42, 85.1), (49.50, 87.7), (49.55, 86.0), (49.62, 76.7), (49.67, 83.0), (49.72, 87.3), (49.79, 81.8),
    (49.85, 82.2), (49.92, 81.8), (49.98, 85.1), (50.05, 86.4), (50.11, 87.7), (50.18, 91.1), (50.23, 91.9),
    (50.30, 97.1), (50.36, 96.1), (50.43, 95.3), (50.50, 95.3), (50.57, 95.3), (50.64, 91.9), (50.70, 88.9),
    (50.76, 87.7), (50.80, 84.3), (50.86, 88.9), (50.92, 88.1), (50.99, 87.3), (51.05, 87.3), (51.12, 88.1),
    (51.18, 88.5), (51.25, 90.2), (51.30, 95.1), (51.36, 89.4), (51.42, 92.7), (51.48, 93.2), (51.52, 88.9),
    (51.57, 78.4), (51.64, 80.1), (51.70, 83.9), (51.77, 82.2), (51.83, 81.8), (51.90, 80.1), (51.96, 78.2),
    (52.03, 78.8), (52.09, 81.8), (52.16, 83.0), (52.22, 83.0), (52.29, 76.7), (52.35, 67.0), (52.42, 67.0),
    (52.49, 66.6), (52.55, 66.2), (52.62, 68.3), (52.68, 70.0), (52.75, 75.0), (52.81, 75.4), (52.88, 78.4),
    (52.94, 79.2), (53.01, 78.2), (53.07, 78.2), (53.14, 80.1), (53.20, 83.0), (53.27, 80.9), (53.33, 79.2),
    (53.40, 80.9), (53.46, 79.2), (53.53, 77.6), (53.59, 76.7), (53.63, 73.3), (53.69, 79.2), (53.74, 80.9),
    (53.79, 84.3), (53.86, 87.7), (53.92, 90.6), (53.99, 91.9), (54.05, 92.7), (54.12, 94.0), (54.18, 93.2),
    (54.24, 91.9), (54.31, 80.1), (54.37, 71.2), (54.44, 80.9), (54.51, 76.7), (54.57, 73.3), (54.64, 82.6),
    (54.70, 88.5), (54.77, 92.1), (54.83, 89.4), (54.90, 92.4), (54.96, 93.2), (55.03, 94.0), (55.10, 94.9),
    (55.16, 95.7), (55.23, 96.1), (55.29, 88.5), (55.36, 79.2), (55.42, 84.3), (55.49, 85.1), (55.55, 83.5),
    (55.62, 79.2), (55.68, 85.1), (55.75, 94.0), (55.81, 92.7), (55.88, 90.2), (55.94, 94.4), (56.01, 97.0),
    (56.07, 95.3), (56.14, 99.1), (56.20, 99.5), (56.24, 100.0), (56.29, 97.0), (56.36, 85.1), (56.42, 86.0),
    (56.49, 86.0), (56.55, 86.4), (56.62, 87.3), (56.68, 94.9), (56.75, 95.3), (56.81, 96.1), (56.87, 99.1),
    (56.92, 98.6), (56.99, 96.3), (57.05, 99.1), (57.11, 99.3), (57.18, 99.3), (57.25, 99.3), (57.30, 98.6),
    (57.35, 87.3), (57.40, 90.6), (57.45, 88.5), (57.51, 91.1), (57.56, 89.4), (57.61, 90.2), (57.66, 91.9),
    (57.72, 97.0), (57.77, 99.9), (57.84, 100.0), (57.90, 99.5), (57.97, 100.0), (58.03, 98.6), (58.10, 99.9),
    (58.16, 99.5), (58.22, 97.8), (58.27, 69.1), (58.31, 76.3), (58.35, 68.3), (58.39, 76.7), (58.43, 80.9),
    (58.47, 58.1), (58.52, 41.3), (58.57, 36.2), (58.63, 32.0), (58.68, 41.3), (58.73, 70.0), (58.78, 77.6),
    (58.84, 72.5), (58.89, 72.1), (58.94, 69.1), (59.00, 64.1), (59.07, 57.3), (59.12, 49.7), (59.18, 48.9),
    (59.23, 56.9), (59.28, 49.7), (59.33, 44.6), (59.40, 40.0), (59.45, 50.5), (59.49, 59.8), (59.54, 58.6),
    (59.59, 59.8), (59.66, 64.9), (59.71, 68.3), (59.78, 71.6), (59.83, 72.9), (59.90, 73.3), (59.96, 77.6),
    (60.01, 80.9), (60.07, 80.9), (60.12, 77.6), (60.19, 71.6), (60.24, 65.7), (60.30, 63.2), (60.35, 56.5),
    (60.40, 49.3), (60.44, 62.4), (60.49, 80.9), (60.55, 75.0), (60.60, 73.3), (60.65, 69.1), (60.70, 75.0),
    (60.76, 81.8), (60.81, 88.5), (60.86, 94.0), (60.93, 90.6), (60.96, 90.2),
]

# (days from start, mm per hour)
rain = [
    (0.55, 0.40), (0.58, 0.90), (0.62, 1.22), (0.65, 1.28), (0.68, 1.80), (0.81, 0.60), (0.84, 0.40), (0.87, 0.40),
    (0.91, 0.30), (0.94, 0.40), (0.97, 0.68), (1.04, 0.30), (1.10, 2.81), (1.14, 0.62), (1.17, 0.68), (1.22, 1.60),
    (1.25, 0.30), (1.29, 0.30), (1.40, 0.46), (1.43, 0.90), (1.46, 0.40),
    (3.36, 0.90), (3.46, 1.19), (3.51, 1.00), (3.54, 0.51), (3.59, 0.60), (3.64, 0.22), (3.78, 0.10), (3.83, 0.10),
    (3.88, 0.90), (3.93, 0.79), (3.98, 0.79), (4.08, 3.39), (4.11, 1.19), (4.16, 0.10), (4.43, 0.10),
    (6.48, 0.60), (6.51, 0.79), (6.56, 1.00), (6.59, 2.40), (6.77, 0.19), (6.82, 0.79),
    (9.00, 0.10), (9.05, 1.19), (9.14, 2.30), (9.17, 1.08), (9.22, 0.51), (9.26, 0.13), (9.30, 0.49), (9.37, 0.30),
    (9.44, 0.49), (9.49, 1.50), (9.53, 2.21), (9.57, 1.91), (9.62, 0.71), (9.66, 0.10), (9.71, 0.60), (9.76, 0.32),
    (9.81, 0.10), (10.67, 0.10),
    (14.68, 0.20), (14.78, 1.50), (14.83, 2.00), (14.86, 1.80), (14.91, 1.91), (14.94, 1.50), (14.99, 0.60),
    (15.03, 0.20), (15.05, 1.72), (15.08, 0.62), (15.13, 0.71), (15.17, 0.19),
    (19.36, 0.10), (20.27, 0.60), (20.29, 2.21), (21.75, 0.10), (21.82, 0.10),
    (22.61, 0.50), (22.66, 0.77), (22.70, 0.71), (22.75, 0.71), (22.79, 0.71), (22.84, 0.09), (22.90, 0.27),
    (22.93, 1.58), (22.96, 2.30), (22.99, 2.37), (23.02, 1.70), (23.05, 0.87), (23.09, 0.38), (23.22, 0.09),
    (26.10, 0.09), (26.19, 0.58), (26.23, 1.48), (26.28, 3.69), (26.31, 5.06), (26.35, 7.07), (26.38, 4.68),
    (26.43, 0.27), (26.47, 0.09), (26.50, 6.97), (26.55, 5.27), (26.58, 0.49), (26.68, 0.09), (26.78, 0.19),
    (27.49, 0.09), (28.35, 3.37), (28.69, 0.09),
    (29.97, 0.09), (30.08, 2.68), (30.11, 1.17), (30.14, 2.87), (30.18, 3.06), (30.21, 2.57), (30.25, 2.08),
    (30.39, 7.90), (30.42, 10.57), (30.45, 6.28), (30.49, 0.77), (30.52, 1.37), (30.86, 0.58), (30.97, 1.70),
    (31.16, 0.09),
    (32.85, 0.09), (33.07, 0.38), (33.12, 0.27), (33.17, 1.06), (33.22, 1.17), (33.25, 3.46), (33.40, 0.09),
    (33.49, 0.09), (33.55, 0.49), (33.67, 0.27), (33.71, 0.38),
    (37.54, 0.58), (37.61, 0.19), (37.70, 0.19), (37.74, 3.46), (37.83, 0.87), (37.88, 4.68), (37.92, 0.49),
    (37.96, 0.49),
    (40.29, 0.09), (40.33, 0.19), (40.40, 0.49), (40.59, 0.09), (42.48, 0.19), (42.55, 0.09), (42.65, 0.27),
    (43.09, 0.19), (43.32, 0.09), (43.39, 0.09), (43.60, 0.09), (43.69, 0.19),
    (49.53, 0.09), (50.22, 0.38), (50.26, 1.58), (50.30, 4.48), (50.44, 7.68), (50.47, 5.06), (50.50, 1.69),
    (50.54, 1.91), (50.58, 0.77), (50.74, 0.09), (51.03, 0.09), (51.21, 0.19), (51.33, 1.48), (51.35, 1.80),
    (51.39, 1.26), (51.43, 1.06), (51.48, 3.17), (51.63, 0.19), (51.68, 0.19), (51.72, 0.19), (51.76, 0.09),
    (51.90, 0.09), (53.31, 0.09), (55.98, 0.09), (56.02, 0.38), (56.46, 0.09), (57.34, 0.09), (57.70, 0.09),
    (57.74, 0.30), (57.77, 0.09),
]

tick_dates = pd.date_range('2024-04-02', '2024-05-28', freq='7D')


def to_time(days):
    return start + pd.to_timedelta(np.asarray(days), unit='D')


fig, axes = plt.subplots(4, 1, figsize=(1937 / 130, 1547 / 130), dpi=130, sharex=True)
fig.subplots_adjust(left=0.0464, right=0.9936, top=0.973, bottom=0.0418, hspace=0.084)

lines = [(pressure, '#1f77b4', '気圧 hPa'),
         (temperature, '#e8772e', '気温 °C'),
         (humidity, '#2ca02c', '湿度 %')]
for ax, (data, color, label) in zip(axes[:3], lines):
    t, v = np.array(data).T
    ax.plot(to_time(t), v, color=color, lw=1.0)
    ax.set_ylabel(label)

t, v = np.array(rain).T
axes[3].bar(to_time(t), v, width=1 / 24, color='#4a78ad')
axes[3].set_ylabel('降水量 mm')

for ax in axes:
    ax.grid(True, alpha=0.3)

axes[0].set_title('気圧・気温・湿度・降水量の比較')
axes[3].set_xticks(tick_dates)
axes[3].xaxis.set_major_formatter(mdates.DateFormatter('%m/%d'))
for lbl in axes[3].get_xticklabels():
    lbl.set_rotation(30)
    lbl.set_ha('right')

fig.savefig('out.png', dpi=130)
